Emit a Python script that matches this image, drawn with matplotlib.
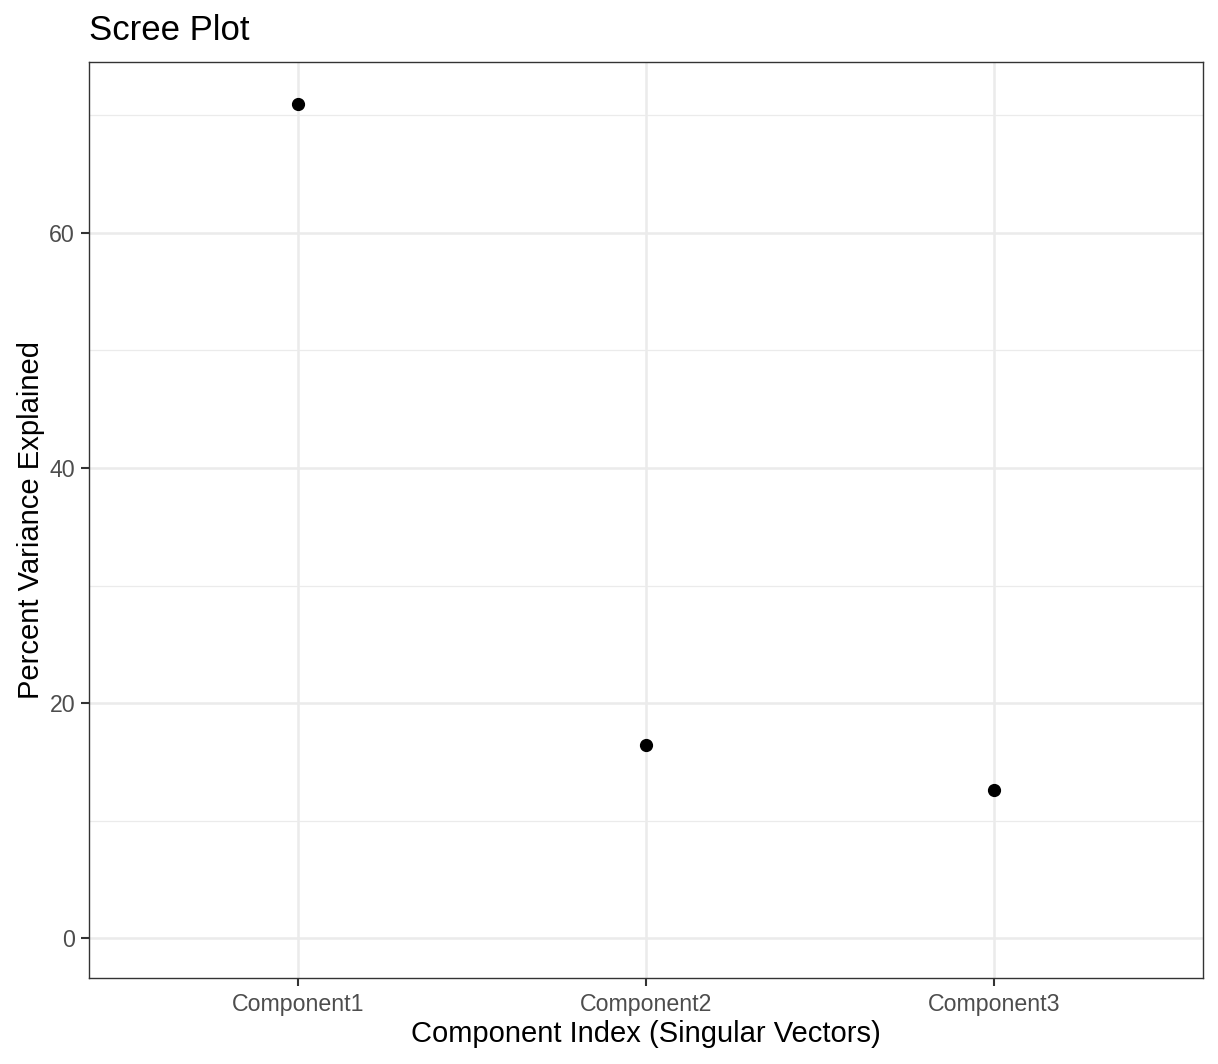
import matplotlib
matplotlib.use('Agg')
import matplotlib.pyplot as plt
import numpy as np

plt.rcParams['font.family'] = ['Liberation Sans', 'DejaVu Sans']

components = ['Component1', 'Component2', 'Component3']
pct_var = [71.0, 16.4, 12.6]

W, H = 1218, 1064
fig = plt.figure(figsize=(W / 100, H / 100), dpi=100)
ax = fig.add_axes([89 / W, 1 - 978 / H, (1203 - 89) / W, (978 - 62) / H])

x = np.arange(len(components))

# grid, ggplot theme_bw style
for yv in [10, 30, 50, 70]:
    ax.axhline(yv, color='#EBEBEB', lw=0.9, zorder=0)
for yv in [0, 20, 40, 60]:
    ax.axhline(yv, color='#EBEBEB', lw=1.8, zorder=0)
for xv in x:
    ax.axvline(xv, color='#EBEBEB', lw=1.8, zorder=0)

ax.plot(x, pct_var, 'o', color='black', ms=8.5, zorder=3)

ax.set_xlim(-0.6, len(components) - 0.4)
ax.set_ylim(-3.4, 74.55)
ax.set_xticks(x)
ax.set_xticklabels(components)
ax.set_yticks([0, 20, 40, 60])

for s in ax.spines.values():
    s.set_color('#333333')
    s.set_linewidth(1.0)
ax.tick_params(axis='both', direction='out', length=6, width=1.5,
               color='#333333', labelcolor='#4D4D4D', labelsize=16.7, pad=4)
ax.tick_params(axis='x', pad=5)

fig.text(89 / W, 1 - 40 / H, 'Scree Plot', fontsize=25, ha='left',
         va='baseline')
fig.text((89 + 1203) / 2 / W, 1 - 1034 / H,
         'Component Index (Singular Vectors)', fontsize=21,
         ha='center', va='center')
fig.text(31 / W, 1 - 520 / H, 'Percent Variance Explained', fontsize=21,
         ha='center', va='center', rotation=90)

fig.savefig('out.png', dpi=100)
